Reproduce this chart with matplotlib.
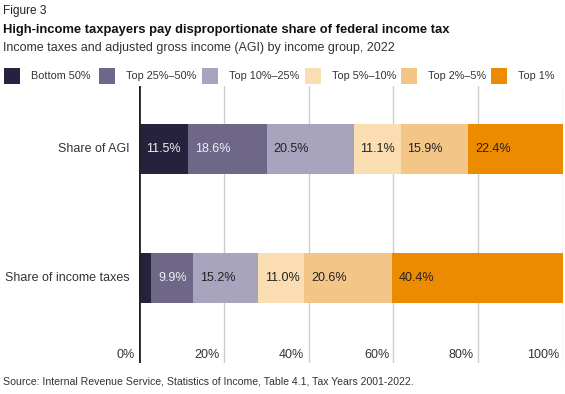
import matplotlib.pyplot as plt
from matplotlib.patches import Rectangle

plt.rcParams['font.family'] = ['Liberation Sans', 'DejaVu Sans']

# data
categories = ['Share of income taxes', 'Share of AGI']
groups = ['Bottom 50%', 'Top 25%\u201350%', 'Top 10%\u201325%',
          'Top 5%\u201310%', 'Top 2%\u20135%', 'Top 1%']
agi_share = [11.5, 18.6, 20.5, 11.1, 15.9, 22.4]
tax_share = [2.9, 9.9, 15.2, 11.0, 20.6, 40.4]
tax_labels = ['', '9.9%', '15.2%', '11.0%', '20.6%', '40.4%']
agi_labels = ['11.5%', '18.6%', '20.5%', '11.1%', '15.9%', '22.4%']
tick_pos = [0, 20, 40, 60, 80, 100]
tick_labels = ['0%', '20%', '40%', '60%', '80%', '100%']

colors = ['#26213c', '#6e6787', '#a8a4bd', '#fbddb2', '#f3c687', '#ec8b00']
text_colors = ['#eeeef4', '#eeeef4', '#222222', '#222222', '#222222', '#222222']

W, H = 565, 394
fig = plt.figure(figsize=(W / 100, H / 100), dpi=100)

# axes placed in pixel terms
x0, x1, y_top, y_bot = 139, 563, 86, 363
ax = fig.add_axes([x0 / W, 1 - y_bot / H, (x1 - x0) / W, (y_bot - y_top) / H])

rows = [tax_share, agi_share]
row_labels = [tax_labels, agi_labels]
bar_h = 0.388
for yi, (vals, labs) in enumerate(zip(rows, row_labels)):
    left = 0
    for v, lab, c, tc in zip(vals, labs, colors, text_colors):
        ax.barh(yi, v, left=left, height=bar_h, color=c, zorder=3)
        if lab:
            ax.annotate(lab, xy=(left, yi), xytext=(5, 0), textcoords='offset points',
                        ha='left', va='center', fontsize=9, color=tc, zorder=4)
        left += v

ax.set_xlim(0, 100)
ax.set_ylim(-0.659, 1.488)
ax.set_xticks(tick_pos[1:])
ax.set_xticklabels([])
ax.tick_params(length=0)
ax.set_yticks([])
ax.grid(axis='x', color='#cccccc', linewidth=1, zorder=0)
for s in ax.spines.values():
    s.set_visible(False)
ax.axvline(0, color='#222222', linewidth=2, zorder=5)

# tick labels inside the plot, right-aligned left of gridlines
for tp, tl in zip(tick_pos, tick_labels):
    ax.annotate(tl, xy=(tp, -0.659), xytext=(-3, 6), textcoords='offset points',
                ha='right', va='center', fontsize=9, color='#333333')

# category labels
for yi, cat in enumerate(categories):
    ax.annotate(cat, xy=(0, yi), xytext=(-7, 0), textcoords='offset points',
                ha='right', va='center', fontsize=9, color='#333333')

# titles
fig.text(3 / W, 1 - 11 / H, 'Figure 3', fontsize=8.6, color='#222222', va='center')
fig.text(3 / W, 1 - 30 / H, 'High-income taxpayers pay disproportionate share of federal income tax',
         fontsize=9.4, fontweight='bold', color='#111111', va='center')
fig.text(3 / W, 1 - 48 / H, 'Income taxes and adjusted gross income (AGI) by income group, 2022',
         fontsize=9, color='#333333', va='center')
fig.text(3 / W, 1 - 381 / H,
         'Source: Internal Revenue Service, Statistics of Income, Table 4.1, Tax Years 2001-2022.',
         fontsize=7.6, color='#333333', va='center')

# legend: squares and labels laid out in a row
legend_x = [4, 99, 202, 305, 401, 491]
for lx, g, c in zip(legend_x, groups, colors):
    fig.patches.append(Rectangle((lx / W, 1 - 84 / H), 16 / W, 16 / H,
                                 transform=fig.transFigure, facecolor=c, edgecolor='none'))
    fig.text((lx + 27) / W, 1 - 76 / H, g, fontsize=7.8, color='#333333', va='center')

fig.savefig('out.png', dpi=100)
